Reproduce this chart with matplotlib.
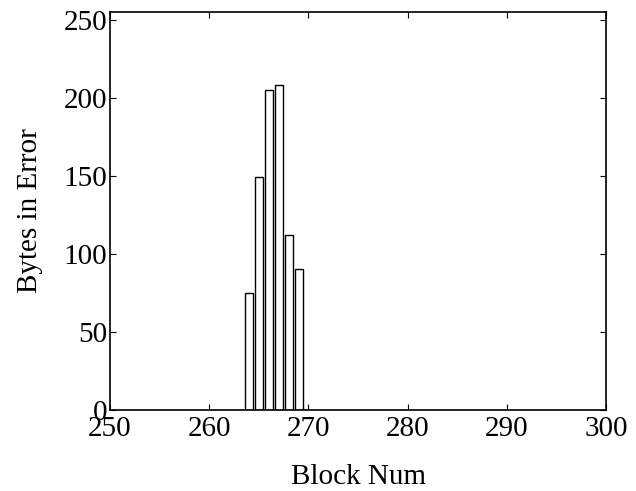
import numpy as np
import matplotlib
matplotlib.use('Agg')
import matplotlib.pyplot as plt

plt.rcParams['font.family'] = ['Liberation Serif', 'DejaVu Serif']

blocks = [264, 265, 266, 267, 268, 269]
errors = [75, 149, 205, 208, 112, 90]
xticks = [250, 260, 270, 280, 290, 300]
yticks = [0, 50, 100, 150, 200, 250]

fig = plt.figure(figsize=(6.36, 4.91), dpi=100)
ax = fig.add_axes([0.173, 0.165, 0.780, 0.811])
ax.bar(blocks, errors, width=0.8, color='white', edgecolor='black', linewidth=1.0)
ax.set_xlim(250, 300)
ax.set_ylim(0, 255)
ax.set_xticks(xticks)
ax.set_yticks(yticks)
ax.tick_params(direction='in', top=True, right=True, labelsize=21, length=4, pad=2)
ax.tick_params(axis='x', pad=4)
ax.set_xlabel('Block Num', fontsize=21, labelpad=16)
ax.set_ylabel('Bytes in Error', fontsize=21, labelpad=15)
for s in ax.spines.values():
    s.set_linewidth(1.2)
fig.savefig('out.png', dpi=100)
